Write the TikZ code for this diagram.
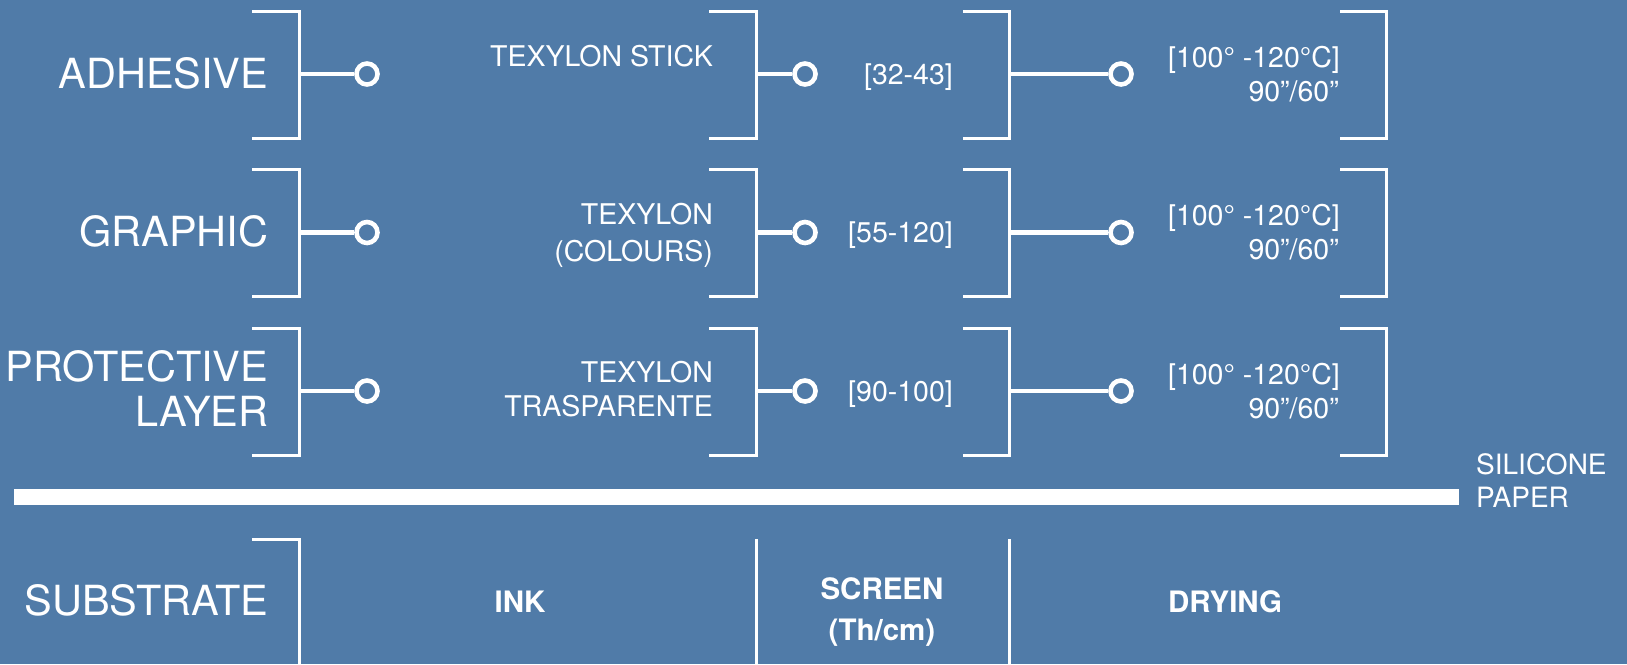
\documentclass[tikz,border=0pt]{standalone}
\usepackage{fontspec}
\setmainfont{TeX Gyre Heros}
\definecolor{bg}{RGB}{80,123,168}
\begin{document}
\begin{tikzpicture}[x=1pt,y=-1pt,
  brk/.style={white, line width=3pt},
  conn/.style={white, line width=4.8pt},
  dot/.style={circle, draw=white, line width=4.6pt, fill=bg, minimum size=21pt, inner sep=0pt},
  big/.style={text=white, font=\fontsize{41.5}{45}\selectfont, inner sep=0pt, anchor=base east},
  small/.style={text=white, font=\fontsize{28.5}{35}\selectfont, inner sep=0pt, anchor=base east},
  side/.style={text=white, font=\fontsize{28}{33}\selectfont, inner sep=0pt, anchor=base west},
  head/.style={text=white, font=\bfseries\fontsize{29.5}{33}\selectfont, inner sep=0pt, anchor=base},
]
\useasboundingbox (0,0) rectangle (1627,664);
\fill[bg] (0,0) rectangle (1627,664);

% brackets, connectors and dots for the three layers
\foreach \r/\yo in {1/0, 2/158.5, 3/317}{
  \draw[brk] (252,{11+\yo}) -- (299,{11+\yo}) -- (299,{138+\yo}) -- (252,{138+\yo});
  \draw[brk] (709,{11+\yo}) -- (756,{11+\yo}) -- (756,{138+\yo}) -- (709,{138+\yo});
  \draw[brk] (963,{11+\yo}) -- (1009,{11+\yo}) -- (1009,{138+\yo}) -- (963,{138+\yo});
  \draw[brk] (1340,{11+\yo}) -- (1386,{11+\yo}) -- (1386,{138+\yo}) -- (1340,{138+\yo});
  \coordinate (ca\r) at (299,{74+\yo});
  \coordinate (cb\r) at (756,{74+\yo});
  \coordinate (cc\r) at (1009,{74+\yo});
  \node[dot] (da\r) at (367,{74+\yo}) {};
  \node[dot] (db\r) at (805,{74+\yo}) {};
  \node[dot] (dc\r) at (1121,{74+\yo}) {};
  \draw[conn] (ca\r) -- (da\r.west);
  \draw[conn] (cb\r) -- (db\r.west);
  \draw[conn] (cc\r) -- (dc\r.west);
  \node[small] (t\r a) at (1340,{67+\yo}) {[100° -120°C]};
  \node[small] (t\r b) at (1339,{101+\yo}) {90”/60”};
}

% layer names
\node[big] (adh) at (268.5,88) {ADHESIVE};
\node[big] (gra) at (268.5,246.5) {GRAPHIC};
\node[big] (pro) at (268.5,381) {PROTECTIVE};
\node[big] (lay) at (268.5,426) {LAYER};

% inks
\node[small] (ink1) at (713,66) {TEXYLON STICK};
\node[small] (ink2a) at (713,224.5) {TEXYLON};
\node[small] (ink2b) at (713,261) {(COLOURS)};
\node[small] (ink3a) at (713,382) {TEXYLON};
\node[small] (ink3b) at (713,416) {TRASPARENTE};

% screens
\node[small] (s1) at (953,84) {[32-43]};
\node[small] (s2) at (953,242.5) {[55-120]};
\node[small] (s3) at (953,401) {[90-100]};

% silicone paper
\node[fill=white, inner sep=0pt, minimum width=1445pt, minimum height=16pt, anchor=north west] (bar) at (14,489) {};
\node[side] (sil1) at (1476,474) {SILICONE};
\node[side] (sil2) at (1476,507) {PAPER};

% substrate and column headers
\draw[brk] (252,539) -- (299,539) -- (299,664);
\draw[brk] (756,539) -- (756,664);
\draw[brk] (1009,539) -- (1009,664);
\node[big] (sub) at (268.5,615.5) {SUBSTRATE};
\node[head] (hink) at (520,612) {INK};
\node[head] (hscr) at (882,599) {SCREEN};
\node[head] (hth) at (882,640) {(Th/cm)};
\node[head] (hdry) at (1225,612) {DRYING};
\end{tikzpicture}
\end{document}
